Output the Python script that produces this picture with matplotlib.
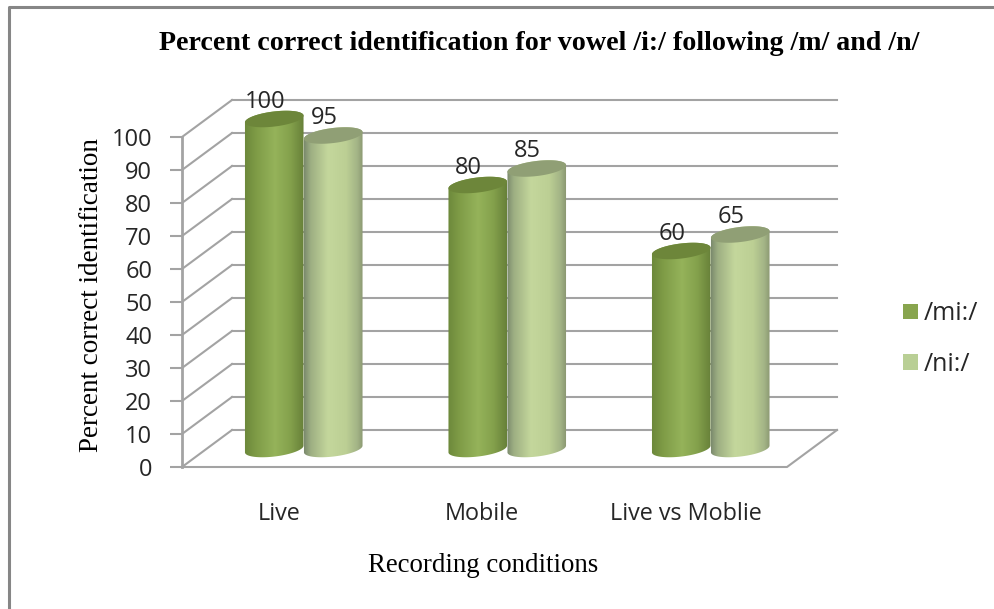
#!/usr/bin/env python3
"""Cylinder bar chart of percent correct vowel identification by recording condition"""

import numpy as np
import matplotlib
matplotlib.use('Agg')
import matplotlib.pyplot as plt
from matplotlib.colors import LinearSegmentedColormap
from matplotlib.lines import Line2D
from matplotlib.patches import Patch, Polygon

conditions = ['Live', 'Mobile', 'Live vs Moblie']
series_names = ['/mi:/', '/ni:/']
mi_values = [100, 80, 60]
ni_values = [95, 85, 65]
y_ticks = list(range(0, 101, 10))

W, H = 995, 609
GRID = '#a3a3a3'
TEXT = '#262626'
SANS = 'Open Sans'
SERIF = 'Liberation Serif'

# front plane of the fake 3D box, in pixels
LEFT, RIGHT, BOTTOM, TOP = 182, 787, 467, 137
CAT_PX = 203.5
PX = 1 / CAT_PX
PY = 100 / (BOTTOM - TOP)

# depth of the box and of the plane the cylinders stand on
BACK_X, BACK_Y = 50 * PX, 37 * PY
BAR_X, BAR_Y = 20 * PX, 18 * PY
BAR_W = 59 * PX

mi_cmap = LinearSegmentedColormap.from_list(
    'mi', [(0, '#6b873a'), (0.2, '#7f9c47'), (0.5, '#95b35a'), (0.75, '#84a14c'), (1, '#637c36')])
ni_cmap = LinearSegmentedColormap.from_list(
    'ni', [(0, '#76856a'), (0.12, '#9dae82'), (0.4, '#c4d79c'), (0.7, '#bccf94'), (0.88, '#a3b486'), (1, '#848f6c')])
mi_cap = '#6d863a'
ni_cap = '#909f75'
mi_swatch = '#88a54e'
ni_swatch = '#b9cf95'


def ellipse(cx, cy, t):
    # tilted ellipse outline around a point in data units
    a, b, tilt = 29.5, 7.5, np.radians(7)
    x = a * np.cos(t) * np.cos(tilt) - b * np.sin(t) * np.sin(tilt)
    y = a * np.cos(t) * np.sin(tilt) + b * np.sin(t) * np.cos(tilt)
    return np.column_stack([cx + x * PX, cy + y * PY])


def draw_cylinder(ax, fig, x, value, cmap, cap):
    cx = x + BAR_X
    base = BAR_Y
    top = value + BAR_Y

    lower = ellipse(cx, base, np.linspace(np.pi, 2 * np.pi, 40))
    upper = ellipse(cx, top, np.linspace(0, np.pi, 40))
    body = Polygon(np.vstack([lower, upper]), closed=True, facecolor='none',
                   edgecolor='none', transform=ax.transData, clip_on=False)
    ax.add_patch(body)

    grad = np.linspace(0, 1, 128).reshape(1, -1)
    im = ax.imshow(grad, cmap=cmap, aspect='auto', zorder=3, interpolation='bilinear',
                   extent=[cx - BAR_W * 0.52, cx + BAR_W * 0.52, base - 10 * PY, top + 10 * PY])
    im.set_clip_box(fig.bbox)
    im.set_clip_path(body)

    lid = ellipse(cx, top, np.linspace(0, 2 * np.pi, 80))
    ax.add_patch(Polygon(lid, closed=True, facecolor=cap, edgecolor='none', zorder=3, clip_on=False))


fig = plt.figure(figsize=(W / 100, H / 100), dpi=100, facecolor='white')
ax = fig.add_axes([LEFT / W, 1 - BOTTOM / H, (RIGHT - LEFT) / W, (BOTTOM - TOP) / H])
ax.patch.set_visible(False)
for spine in ax.spines.values():
    spine.set_visible(False)

x_max = (RIGHT - LEFT) * PX
centers = np.arange(len(conditions)) + 0.5

# back wall and side wall grid lines
for v in y_ticks:
    ax.plot([BACK_X, x_max + BACK_X], [v + BACK_Y, v + BACK_Y], color=GRID, lw=1.5, clip_on=False, zorder=1)
    ax.plot([0, BACK_X], [v, v + BACK_Y], color=GRID, lw=1.5, clip_on=False, zorder=1)

# floor and front axis lines
ax.plot([0, x_max, x_max + BACK_X], [0, 0, BACK_Y], color=GRID, lw=1.5, clip_on=False, zorder=1)
ax.plot([0, 0], [0, 100], color=GRID, lw=2, clip_on=False, zorder=1)

for i, x in enumerate(centers):
    draw_cylinder(ax, fig, x - BAR_W / 2, mi_values[i], mi_cmap, mi_cap)
    draw_cylinder(ax, fig, x + BAR_W / 2, ni_values[i], ni_cmap, ni_cap)
    for off, val in [(-BAR_W / 2, mi_values[i]), (BAR_W / 2, ni_values[i])]:
        ax.text(x + off + 11 * PX, val + BACK_Y - 2 * PY, str(val), ha='center', va='center',
                fontsize=17, family=SANS, color=TEXT, zorder=4)

ax.set_xlim(0, x_max)
ax.set_ylim(0, 100)
ax.set_yticks(y_ticks)
ax.set_xticks(centers - 5 * PX)
ax.set_xticklabels(conditions)
ax.tick_params(axis='y', length=8.5, width=1.5, color=GRID, pad=13, labelsize=17, labelcolor=TEXT)
ax.tick_params(axis='x', length=0, pad=25, labelsize=16.8, labelcolor=TEXT)
for label in ax.get_xticklabels() + ax.get_yticklabels():
    label.set_family(SANS)

fig.text(539 / W, 1 - 43 / H, 'Percent correct identification for vowel /i:/ following /m/ and /n/',
         ha='center', va='center', family=SERIF, weight='bold', fontsize=20.2, color='black')
fig.text(92 / W, 1 - 295 / H, 'Percent correct identification', rotation=90,
         ha='center', va='center', family=SERIF, fontsize=19.5, color='black')
fig.text(483 / W, 1 - 565 / H, 'Recording conditions',
         ha='center', va='center', family=SERIF, fontsize=19.4, color='black')

handles = [Patch(facecolor=mi_swatch, edgecolor='none'), Patch(facecolor=ni_swatch, edgecolor='none')]
fig.legend(handles, series_names, loc='center left', bbox_to_anchor=(903 / W, 1 - 339 / H),
           frameon=False, handlelength=0.6, handleheight=0.6, handletextpad=0.25,
           labelspacing=1.02, borderpad=0, borderaxespad=0,
           prop={'family': SANS, 'size': 18}, labelcolor=TEXT)

# outer chart frame, only the top and left edges are visible
fig.add_artist(Line2D([9 / W, 9 / W, 1], [0, 1 - 7 / H, 1 - 7 / H], color='#868686', lw=2.2))

fig.savefig('out.png', dpi=100)
